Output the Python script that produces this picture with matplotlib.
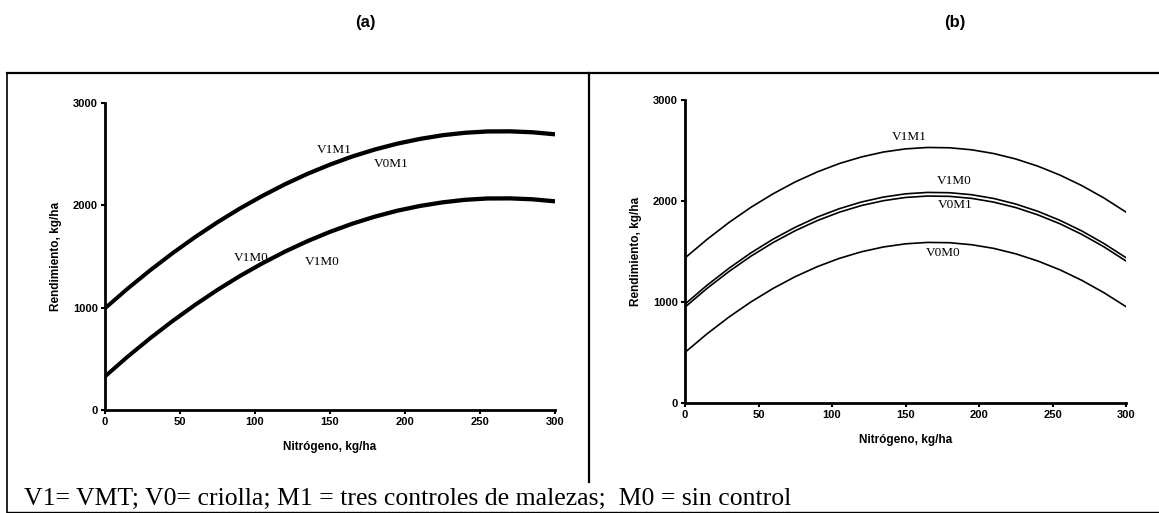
import numpy as np
import matplotlib.pyplot as plt
from matplotlib.lines import Line2D

# nitrogen doses, kg/ha
nitrogeno = [0, 15, 30, 45, 60, 75, 90, 105, 120, 135, 150,
             165, 180, 195, 210, 225, 240, 255, 270, 285, 300]

# (a) yield, kg/ha
a_v1m1 = [1000, 1191, 1370, 1538, 1695, 1841, 1976, 2099, 2212, 2314, 2404,
          2484, 2552, 2609, 2655, 2691, 2715, 2728, 2729, 2720, 2700]
a_v0m1 = [988, 1179, 1358, 1526, 1683, 1829, 1964, 2087, 2200, 2302, 2392,
          2472, 2540, 2597, 2643, 2679, 2703, 2716, 2717, 2708, 2688]
a_v1m0 = [334, 526, 706, 875, 1033, 1180, 1316, 1440, 1554, 1656, 1747,
          1827, 1896, 1954, 2000, 2035, 2060, 2073, 2074, 2065, 2045]
a_v0m0 = [322, 514, 694, 863, 1021, 1168, 1304, 1428, 1542, 1644, 1735,
          1815, 1884, 1942, 1988, 2023, 2048, 2061, 2062, 2053, 2033]

# (b) yield, kg/ha
b_v1m1 = [1436, 1620, 1788, 1939, 2072, 2189, 2288, 2371, 2436, 2485, 2516,
          2530, 2527, 2507, 2470, 2416, 2345, 2257, 2152, 2030, 1890]
b_v1m0 = [979, 1166, 1335, 1488, 1623, 1740, 1841, 1924, 1990, 2039, 2071,
          2085, 2082, 2062, 2025, 1970, 1898, 1809, 1703, 1579, 1439]
b_v0m1 = [949, 1135, 1303, 1455, 1589, 1706, 1806, 1889, 1955, 2003, 2035,
          2049, 2046, 2026, 1989, 1935, 1863, 1775, 1669, 1546, 1406]
b_v0m0 = [501, 685, 852, 1002, 1135, 1251, 1350, 1432, 1497, 1545, 1576,
          1590, 1587, 1567, 1531, 1477, 1406, 1319, 1214, 1092, 954]

labels_a = [("V1M1", 141, 2545), ("V0M1", 179, 2405), ("V1M0", 86, 1490), ("V1M0", 133, 1445)]
labels_b = [("V1M1", 141, 2630), ("V1M0", 171, 2195), ("V0M1", 172, 1965), ("V0M0", 164, 1490)]

nota = "V1= VMT; V0= criolla; M1 = tres controles de malezas;  M0 = sin control"

fig = plt.figure(figsize=(11.59, 5.13), dpi=100)
W, H = 1159, 513

def ejes(x0, x1, ytop, ybot):
    ax = fig.add_axes([x0 / W, 1 - ybot / H, (x1 - x0) / W, (ybot - ytop) / H])
    ax.set_xlim(0, 300)
    ax.set_ylim(0, 3000)
    ax.set_xticks([0, 50, 100, 150, 200, 250, 300])
    ax.set_yticks([0, 1000, 2000, 3000])
    for s in ["top", "right"]:
        ax.spines[s].set_visible(False)
    for s in ["left", "bottom"]:
        ax.spines[s].set_linewidth(2)
    ax.tick_params(width=1.5, length=3, labelsize=8, pad=2)
    for t in ax.get_xticklabels() + ax.get_yticklabels():
        t.set_fontweight("bold")
        t.set_family("Liberation Sans")
    ax.set_xlabel("Nitrógeno, kg/ha", fontsize=8.5, fontweight="bold", family="Liberation Sans", labelpad=10)
    ax.set_ylabel("Rendimiento, kg/ha", fontsize=8.5, fontweight="bold", family="Liberation Sans", labelpad=8)
    return ax

ax1 = ejes(105, 555, 103, 410)
for serie in [a_v1m1, a_v0m1, a_v1m0, a_v0m0]:
    ax1.plot(nitrogeno, serie, color="black", lw=2.2, solid_capstyle="butt")
for txt, x, y in labels_a:
    ax1.text(x, y, txt, fontsize=9.5, family="Liberation Serif", ha="left", va="center")

ax2 = ejes(685, 1126, 100, 403)
for serie in [b_v1m1, b_v1m0, b_v0m1, b_v0m0]:
    ax2.plot(nitrogeno, serie, color="black", lw=1.2)
for txt, x, y in labels_b:
    ax2.text(x, y, txt, fontsize=9.5, family="Liberation Serif", ha="left", va="center")

fig.text(365 / W, 1 - 22 / H, "(a)", fontsize=12, fontweight="bold", family="Liberation Sans", ha="center", va="center")
fig.text(955 / W, 1 - 22 / H, "(b)", fontsize=12, fontweight="bold", family="Liberation Sans", ha="center", va="center")

# frame lines
def linea(xs, ys, lw=1.5):
    fig.add_artist(Line2D([x / W for x in xs], [1 - y / H for y in ys], color="black", lw=lw))

linea([7, 1159], [73, 73], 1.6)
linea([7, 7], [73, 513], 1.2)
linea([589, 589], [73, 482], 1.6)
linea([7, 1159], [511.5, 511.5], 1.0)

fig.text(24 / W, 1 - 505 / H, nota, fontsize=18.5, family="Liberation Serif", ha="left", va="baseline")

fig.savefig("out.png", dpi=100)
